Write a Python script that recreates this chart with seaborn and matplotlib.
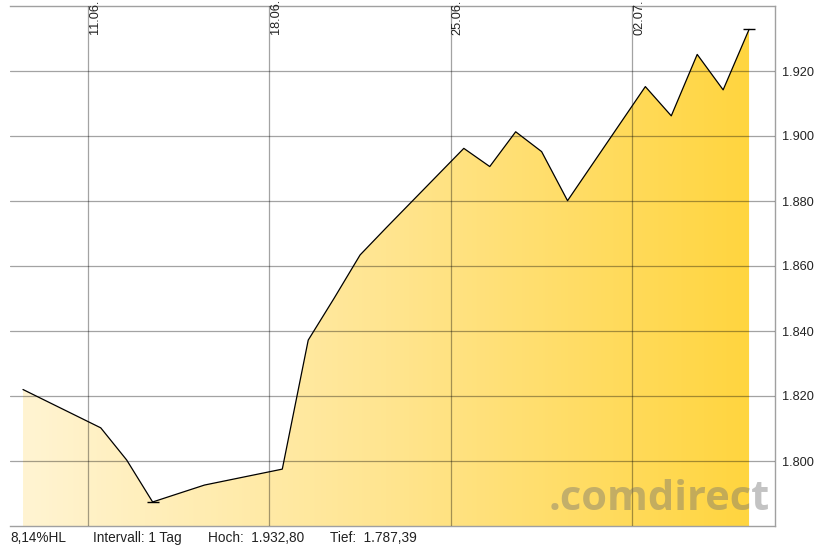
import numpy as np
import pandas as pd
import matplotlib
matplotlib.use('Agg')
import matplotlib.pyplot as plt
import matplotlib.dates as mdates
from matplotlib.colors import LinearSegmentedColormap
import seaborn as sns

sns.set_style('white')
plt.rcParams['font.family'] = ['Liberation Sans', 'DejaVu Sans']

# daily closes, plotted at midday
days = ['2018-06-08', '2018-06-11', '2018-06-12', '2018-06-13', '2018-06-14',
        '2018-06-15', '2018-06-18', '2018-06-19', '2018-06-20', '2018-06-21',
        '2018-06-22', '2018-06-25', '2018-06-26', '2018-06-27', '2018-06-28',
        '2018-06-29', '2018-07-02', '2018-07-03', '2018-07-04', '2018-07-05',
        '2018-07-06']
close = [1822.0, 1810.2, 1800.3, 1787.39, 1790.0,
         1792.6, 1797.5, 1837.2, 1850.1, 1863.4,
         1871.7, 1896.2, 1890.6, 1901.3, 1895.2,
         1880.1, 1915.2, 1906.2, 1925.1, 1914.2,
         1932.8]
week_ticks = ['2018-06-11', '2018-06-18', '2018-06-25', '2018-07-02']
week_labels = ['11.06.', '18.06.', '25.06.', '02.07.']
y_ticks = [1800, 1820, 1840, 1860, 1880, 1900, 1920]
info = ['8,14%HL', 'Intervall: 1 Tag', 'Hoch:  1.932,80', 'Tief:  1.787,39']

df = pd.DataFrame({'date': pd.to_datetime(days) + pd.Timedelta(hours=12),
                   'close': close})
xnum = mdates.date2num(df['date'])

fig = plt.figure(figsize=(8.21, 5.46), dpi=100)
ax = fig.add_axes([10 / 821, 20 / 546, 765 / 821, 520 / 546])

x_lo = mdates.date2num(pd.Timestamp('2018-06-08'))
x_hi = mdates.date2num(pd.Timestamp('2018-07-07 12:00'))
y_lo, y_hi = 1780, 1940

# gradient area under the line
poly = ax.fill_between(xnum, df['close'], y_lo, facecolor='none', edgecolor='none')
cmap = LinearSegmentedColormap.from_list('gold', ['#fff4d2', '#ffe590', '#ffd53f'])
grad = ax.imshow(np.linspace(0, 1, 256).reshape(1, -1), cmap=cmap, aspect='auto',
                 extent=[xnum[0], xnum[-1], y_lo, y_hi], origin='lower', zorder=1)
grad.set_clip_path(poly.get_paths()[0], transform=ax.transData)

sns.lineplot(x=xnum, y=df['close'], ax=ax, color='black', lw=0.9, zorder=3)

# high / low markers
i_hi, i_lo = int(np.argmax(close)), int(np.argmin(close))
ax.plot([xnum[i_hi], xnum[i_lo]], [close[i_hi], close[i_lo]], ls='none',
        marker='_', ms=9, mew=1, color='black', zorder=4)

ax.set_xlim(x_lo, x_hi)
ax.set_ylim(y_lo, y_hi)
ax.set_xlabel('')
ax.set_ylabel('')

wt = mdates.date2num(pd.to_datetime(week_ticks))
ax.set_xticks(wt)
ax.set_xticklabels([])
ax.set_yticks(y_ticks)
ax.set_yticklabels([f'{v // 1000}.{v % 1000:03d}' for v in y_ticks])
ax.yaxis.tick_right()
ax.tick_params(axis='y', length=0, pad=5, labelsize=9.2, labelcolor='#222222')
ax.tick_params(axis='x', length=0)
ax.set_axisbelow(False)
ax.grid(True, color='black', alpha=0.36, lw=0.9)

for side in ['top', 'right', 'bottom']:
    ax.spines[side].set_color('#a0a0a0')
    ax.spines[side].set_linewidth(1)
ax.spines['left'].set_visible(False)

for xv, lab in zip(wt, week_labels):
    ax.text(xv + 0.03, 1.013, lab, rotation=90, ha='left', va='top',
            fontsize=9.2, color='#222222', transform=ax.get_xaxis_transform())

ax.text(0.9935, 0.03, '.comdirect', transform=ax.transAxes, ha='right',
        va='baseline', fontsize=30, family='Open Sans', fontweight='bold',
        color='#707070', alpha=0.42, zorder=5)

for xp, txt in zip([10, 93, 208, 330], info):
    fig.text(xp / 821, 8 / 546, txt, ha='left', va='center', fontsize=9.8,
             color='#222222')

fig.savefig('out.png', dpi=100)
